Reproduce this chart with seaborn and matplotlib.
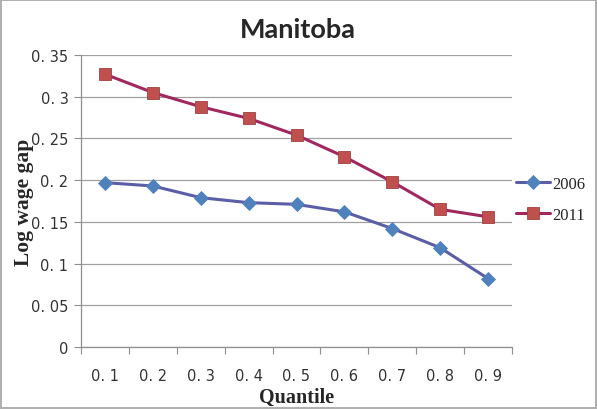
import numpy as np
import pandas as pd
import matplotlib
matplotlib.use('Agg')
import matplotlib.pyplot as plt
import seaborn as sns
from matplotlib.ticker import FixedLocator, FuncFormatter

quantiles = [0.1, 0.2, 0.3, 0.4, 0.5, 0.6, 0.7, 0.8, 0.9]
gap_2006 = [0.197, 0.193, 0.179, 0.173, 0.171, 0.162, 0.142, 0.119, 0.082]
gap_2011 = [0.327, 0.305, 0.288, 0.274, 0.254, 0.228, 0.198, 0.165, 0.156]
years = ['2006', '2011']
y_ticks = [0, 0.05, 0.1, 0.15, 0.2, 0.25, 0.3, 0.35]

df = pd.DataFrame({
    'Quantile': quantiles * 2,
    'Gap': gap_2006 + gap_2011,
    'Year': [years[0]] * len(quantiles) + [years[1]] * len(quantiles),
})

sns.set_style('white')
fig = plt.figure(figsize=(5.97, 4.10), dpi=100)
fig.patch.set_edgecolor('#B0B0B0')
fig.patch.set_linewidth(1.5)
ax = fig.add_axes([81 / 597, 62 / 410, 431 / 597, 292 / 410])

line_cols = {'2006': '#5B5EA6', '2011': '#A0285F'}
marker_cols = {'2006': '#4F81BD', '2011': '#C0504D'}
markers = {'2006': 'D', '2011': 's'}

for yr in years:
    sub = df[df['Year'] == yr]
    sns.lineplot(data=sub, x='Quantile', y='Gap', ax=ax, color=line_cols[yr],
                 linewidth=2.2, marker=markers[yr], markersize=8 if yr == '2011' else 7.5,
                 markerfacecolor=marker_cols[yr],
                 markeredgecolor='#A04040' if yr == '2011' else marker_cols[yr],
                 markeredgewidth=0.6, label=yr, zorder=3)

ax.set_xlim(0.05, 0.95)
ax.set_ylim(0, 0.35)
ax.xaxis.set_major_locator(FixedLocator(quantiles))
ax.xaxis.set_minor_locator(FixedLocator(np.arange(0.05, 0.96, 0.1)))
ax.xaxis.set_major_formatter(FuncFormatter(lambda v, p: f'{v:.1f}'.replace('.', '. ')))
ax.yaxis.set_major_locator(FixedLocator(y_ticks))
ax.yaxis.set_major_formatter(FuncFormatter(lambda v, p: f'{v:g}'.replace('.', '. ')))
ax.tick_params(axis='x', which='major', length=0, pad=15, labelsize=10.5, labelcolor='#333333')
ax.tick_params(axis='x', which='minor', length=5, width=0.8, color='#909090', direction='out', bottom=True)
ax.tick_params(axis='y', which='major', length=5, width=0.8, color='#909090', direction='out', left=True,
               labelsize=10.5, labelcolor='#333333', pad=4)
for lab in ax.get_xticklabels() + ax.get_yticklabels():
    lab.set_family('DejaVu Sans')

ax.grid(axis='y', color='#A0A0A0', linewidth=0.9)
ax.set_axisbelow(True)
for s in ['top', 'right']:
    ax.spines[s].set_visible(False)
for s in ['left', 'bottom']:
    ax.spines[s].set_color('#909090')
    ax.spines[s].set_linewidth(0.9)

ax.set_xlabel('Quantile', fontsize=14.5, fontweight='bold', family='Liberation Serif', va='top')
ax.set_ylabel('Log wage gap', fontsize=15.5, fontweight='bold', family='Liberation Serif')
ax.xaxis.set_label_coords(0.5, -0.135)
ax.yaxis.set_label_coords(-0.11, 0.5)
fig.text(298 / 597, 1 - 30 / 410, 'Manitoba', ha='center', va='center', fontsize=19.5,
         fontweight='bold', family='Lato')

leg = ax.legend(loc='center left', bbox_to_anchor=(0.975, 0.505), frameon=False,
                prop={'family': 'Liberation Serif', 'size': 12}, handlelength=2.0,
                handletextpad=0.15, labelspacing=0.9)

fig.savefig('out.png', dpi=100)
